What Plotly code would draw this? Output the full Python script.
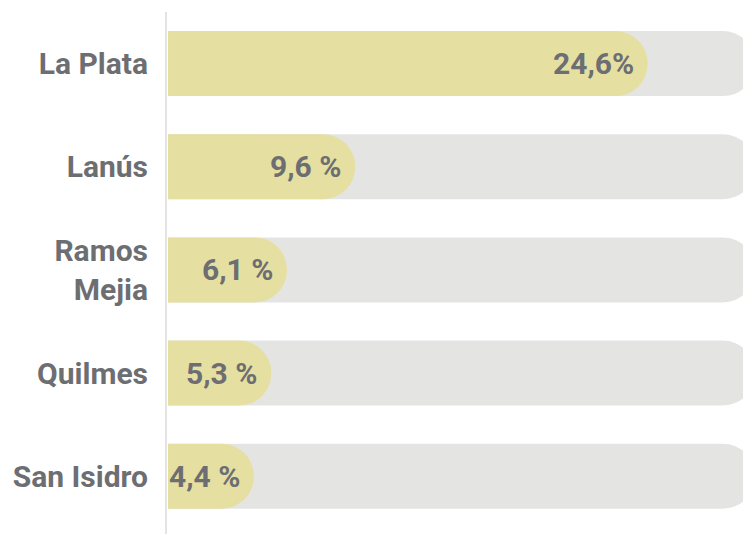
import plotly.graph_objects as go

categories = ["La Plata", "Lanús", "Ramos<br>Mejia", "Quilmes", "San Isidro"]
values = [24.6, 9.6, 6.1, 5.3, 4.4]
value_labels = ["24,6%", "9,6 %", "6,1 %", "5,3 %", "4,4 %"]
track_max = 30.1

TEXT = "#6d6e72"
YELLOW = "#e5e0a1"
GRAY = "#e4e5e3"
FONT = dict(family="Roboto", size=30, color=TEXT, weight="bold")
XRANGE = [-0.05, 29.49]

ypos = list(range(len(categories)))

fig = go.Figure()
fig.add_trace(go.Bar(
    x=[track_max] * len(categories), y=ypos, orientation="h",
    marker=dict(color=GRAY, cornerradius="50%", line=dict(width=0)),
    width=0.63, hoverinfo="skip", showlegend=False, xaxis="x", yaxis="y",
))
fig.add_trace(go.Bar(
    x=values, y=ypos, orientation="h",
    marker=dict(color=YELLOW, cornerradius="50%", line=dict(width=0)),
    width=0.63, hoverinfo="skip", showlegend=False, xaxis="x2", yaxis="y",
))

for i, (v, t) in enumerate(zip(values, value_labels)):
    fig.add_annotation(x=v, y=i, xref="x2", yref="y", text=t, showarrow=False,
                       xanchor="right", yanchor="middle", xshift=-12, font=FONT)

fig.update_layout(
    width=743, height=534,
    margin=dict(l=167, r=0, t=12, b=0),
    paper_bgcolor="white", plot_bgcolor="white",
    barmode="overlay",
    xaxis=dict(range=XRANGE, visible=False, fixedrange=True),
    xaxis2=dict(range=XRANGE, visible=False, fixedrange=True,
                overlaying="x", matches="x"),
    yaxis=dict(range=[4.56, -0.5], tickvals=ypos, ticktext=categories,
               showgrid=False, zeroline=False, showline=True,
               linecolor="#e3e3e3", linewidth=2, ticks="",
               ticklabelstandoff=11, tickfont=FONT, fixedrange=True),
    font=FONT,
)

fig.write_html("out.html", config={"displayModeBar": False},
               post_script="document.body.style.margin='0';")
